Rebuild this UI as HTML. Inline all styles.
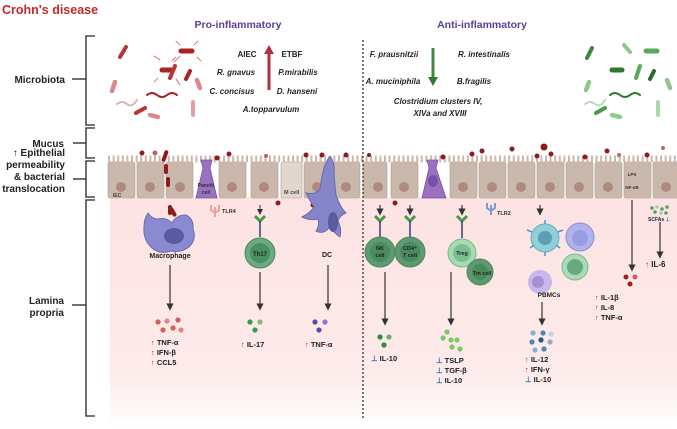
<!DOCTYPE html>
<html><head><meta charset="utf-8"><style>
html,body{margin:0;padding:0;background:#fff;width:677px;height:429px;overflow:hidden}
svg{display:block;font-family:"Liberation Sans",sans-serif}
.b{font-weight:bold}
</style></head><body>
<svg width="677" height="429" viewBox="0 0 677 429" xmlns="http://www.w3.org/2000/svg">
<defs>
<linearGradient id="pk" x1="0" y1="0" x2="0" y2="1">
<stop offset="0" stop-color="#fde3e3"/><stop offset="0.75" stop-color="#fdeaea"/><stop offset="1" stop-color="#ffffff"/>
</linearGradient>
<marker id="ar" markerWidth="6" markerHeight="6" refX="3" refY="3" orient="auto"><path d="M0,0 L6,3 L0,6z" fill="#333"/></marker>
</defs>
<text x="2" y="14" class="b" font-size="12.5" fill="#c62828">Crohn's disease</text>
<g stroke="#222" stroke-width="1.3" fill="none">
<path d="M95,36 H86 V125 H95"/><path d="M95,128 H86 V158 H95"/><path d="M95,161 H86 V197 H95"/><path d="M95,200 H86 V416 H95"/>
<line x1="72" y1="79" x2="86" y2="79"/><line x1="73" y1="143" x2="86" y2="143"/><line x1="73" y1="179" x2="86" y2="179"/><line x1="72" y1="305" x2="86" y2="305"/>
</g>
<g class="b" font-size="10" fill="#222" text-anchor="end">
<text x="65" y="83">Microbiota</text><text x="64" y="147">Mucus</text>
<text x="65" y="156">↑ Epithelial</text><text x="65" y="168">permeability</text><text x="65" y="180">&amp; bacterial</text><text x="65" y="192">translocation</text>
<text x="64" y="304">Lamina</text><text x="64" y="316">propria</text>
</g>
<rect x="110" y="197" width="567" height="232" fill="url(#pk)"/>
<g>
<g fill="#cbb8ac" stroke="#b09c90" stroke-width="0.6">
<rect x="108" y="162" width="27" height="36" rx="2"/><rect x="137" y="162" width="27" height="36" rx="2"/><rect x="166" y="162" width="27" height="36" rx="2"/>
<rect x="219" y="162" width="27" height="36" rx="2"/><rect x="251" y="162" width="27" height="36" rx="2"/>
<rect x="281" y="162" width="21" height="36" rx="2" fill="#e2d6cd"/><rect x="304" y="162" width="27" height="36" rx="2"/><rect x="333" y="162" width="27" height="36" rx="2"/>
<rect x="363" y="162" width="24" height="36" rx="2"/><rect x="391" y="162" width="27" height="36" rx="2"/>
<rect x="450" y="162" width="27" height="36" rx="2"/><rect x="479" y="162" width="27" height="36" rx="2"/><rect x="508" y="162" width="27" height="36" rx="2"/><rect x="537" y="162" width="27" height="36" rx="2"/>
<rect x="566" y="162" width="27" height="36" rx="2"/><rect x="595" y="162" width="27" height="36" rx="2"/><rect x="624" y="162" width="27" height="36" rx="2"/><rect x="653" y="162" width="27" height="36" rx="2"/>
</g>
<path d="M108,162 h572" stroke="#cbb8ac" stroke-width="7" stroke-dasharray="2 2.6" transform="translate(0,-3)"/>
<g fill="#b08a80">
<circle cx="121" cy="187" r="5"/><circle cx="150" cy="187" r="5"/><circle cx="180" cy="187" r="5"/><circle cx="232" cy="187" r="5"/><circle cx="264" cy="187" r="5"/>
<circle cx="317" cy="187" r="5"/><circle cx="346" cy="187" r="5"/><circle cx="378" cy="187" r="5"/><circle cx="404" cy="187" r="5"/><circle cx="463" cy="187" r="5"/>
<circle cx="492" cy="187" r="5"/><circle cx="521" cy="187" r="5"/><circle cx="550" cy="187" r="5"/><circle cx="579" cy="187" r="5"/><circle cx="608" cy="187" r="5"/><circle cx="666" cy="187" r="5"/>
</g>
</g>
<text x="113" y="197" font-size="5" class="b" fill="#444">IEC</text>
<text x="284" y="194" font-size="5.5" class="b" fill="#444">M cell</text>
<path d="M196,198 L203,168 L201,160 L212,160 L210,168 L217,198 Z" fill="#9a70c0" stroke="#7a52a0" stroke-width="0.8"/>
<text x="206" y="187" font-size="5" class="b" fill="#333" text-anchor="middle">Paneth</text><text x="206" y="194" font-size="5" class="b" fill="#333" text-anchor="middle">cell</text>
<path d="M422,198 L429,168 L427,160 L438,160 L436,168 L446,198 Z" fill="#9a70c0" stroke="#7a52a0" stroke-width="0.8"/>
<ellipse cx="433" cy="181" rx="5" ry="6" fill="#7a4fa8"/>
<g fill="#8e1c1c">
<circle cx="142" cy="153" r="2.5"/><circle cx="155" cy="153" r="2.5" fill="#c46060"/><circle cx="217" cy="158" r="2.5"/><circle cx="229" cy="154" r="2.5"/>
<circle cx="266" cy="156" r="2" fill="#c46060"/><circle cx="306" cy="155" r="2.5"/><circle cx="322" cy="155" r="2.5"/><circle cx="346" cy="155" r="2.5"/>
<circle cx="369" cy="155" r="2" /><circle cx="443" cy="157" r="2.5"/><circle cx="472" cy="154" r="2.5"/><circle cx="482" cy="151" r="2.5"/>
<circle cx="512" cy="149" r="2.5"/><circle cx="544" cy="147" r="3.5"/><circle cx="537" cy="156" r="2.5"/><circle cx="551" cy="154" r="2.5"/><circle cx="585" cy="157" r="2.5"/>
<circle cx="607" cy="151" r="2.5"/><circle cx="619" cy="155" r="2" fill="#c46060"/><circle cx="647" cy="155" r="2.5"/><circle cx="663" cy="148" r="2" fill="#c46060"/>
<circle cx="395" cy="203" r="2.5"/><circle cx="278" cy="203" r="2.5"/><circle cx="313" cy="205" r="2.5"/>
<rect x="163" y="150" width="4" height="12" rx="2" transform="rotate(20 165 156)"/>
<rect x="164" y="164" width="4" height="10" rx="2"/><rect x="166" y="177" width="4" height="10" rx="2"/><rect x="168" y="205" width="4" height="10" rx="2"/>
<rect x="171" y="207" width="4" height="10" rx="2" transform="rotate(-30 173 212)"/>
</g>
<g stroke="#e8a0a0" stroke-width="2" fill="none"><path d="M215,207 v10 M211,205 v5 q4,4 8,0 v-5"/></g>
<text x="222" y="213" font-size="5.5" class="b" fill="#333">TLR4</text>
<g stroke="#7a9ad0" stroke-width="2" fill="none"><path d="M491,205 v10 M487,203 v5 q4,4 8,0 v-5"/></g>
<text x="497" y="215" font-size="5.5" class="b" fill="#333">TLR2</text>
<!-- Macrophage -->
<path d="M148,213 q4,6 10,6 q8,-2 14,4 q4,-8 14,-8 q8,4 7,14 q4,10 -4,18 q-8,6 -18,4 q-12,4 -20,-4 q-8,-8 -7,-20 q0,-8 4,-14z" fill="#8a8ad0" stroke="#6a6ab0"/>
<ellipse cx="174" cy="236" rx="10" ry="8" fill="#5a5aa0"/>
<text x="170" y="258" font-size="7" class="b" fill="#222" text-anchor="middle">Macrophage</text>
<!-- Th17 -->
<g stroke="#333" stroke-width="1"><line x1="260" y1="205" x2="260" y2="212" marker-end="url(#ar)"/></g>
<path d="M255,216 l5,5 l5,-5" stroke="#4a9a4a" stroke-width="3" fill="none"/><line x1="260" y1="221" x2="260" y2="237" stroke="#3a3a80" stroke-width="1.5"/>
<circle cx="260" cy="253" r="15" fill="#6aaa80" stroke="#4a8a60"/><circle cx="260" cy="253" r="10" fill="#4a9060"/>
<text x="260" y="256" font-size="6" class="b" fill="#222" text-anchor="middle">Th17</text>
<!-- DC -->
<path d="M331,157 l3,8 q0,15 2,30 q4,12 10,18 q-6,2 -8,8 q4,8 2,16 q-6,-4 -10,-10 q-6,8 -14,4 q4,-6 2,-12 q-8,2 -16,-2 q8,-4 12,-10 q-4,-6 -8,-14 q10,2 14,-4 q2,-16 5,-24 l4,-8z" fill="#8585c8" stroke="#6a6ab0"/>
<ellipse cx="333" cy="222" rx="5" ry="10" fill="#5a5aa0"/>
<text x="327" y="257" font-size="7" class="b" fill="#222" text-anchor="middle">DC</text>
<g stroke="#333" stroke-width="1.2">
<line x1="170" y1="265" x2="170" y2="307" marker-end="url(#ar)"/><line x1="260" y1="272" x2="260" y2="307" marker-end="url(#ar)"/><line x1="328" y1="265" x2="328" y2="307" marker-end="url(#ar)"/>
<line x1="385" y1="272" x2="385" y2="322" marker-end="url(#ar)"/><line x1="451" y1="272" x2="451" y2="322" marker-end="url(#ar)"/><line x1="542" y1="302" x2="542" y2="322" marker-end="url(#ar)"/>
<line x1="632" y1="200" x2="632" y2="268" marker-end="url(#ar)"/><line x1="660" y1="222" x2="660" y2="255" marker-end="url(#ar)"/>
<line x1="380" y1="205" x2="380" y2="212" marker-end="url(#ar)"/><line x1="410" y1="205" x2="410" y2="212" marker-end="url(#ar)"/><line x1="462" y1="205" x2="462" y2="212" marker-end="url(#ar)"/><line x1="540" y1="205" x2="540" y2="212" marker-end="url(#ar)"/>
</g>
<g fill="#d06060"><circle cx="158" cy="322" r="2.6"/><circle cx="167" cy="321" r="2.6" fill="#e08888"/><circle cx="178" cy="320" r="2.6"/><circle cx="163" cy="330" r="2.6"/><circle cx="173" cy="328" r="2.6"/><circle cx="181" cy="330" r="2.6" fill="#e08888"/></g>
<g fill="#3a9a4a"><circle cx="250" cy="322" r="2.6"/><circle cx="260" cy="322" r="2.6" fill="#7ac07a"/><circle cx="255" cy="330" r="2.6"/></g>
<g fill="#5a4aa8"><circle cx="315" cy="322" r="2.6"/><circle cx="325" cy="322" r="2.6" fill="#8a7ac8"/><circle cx="319" cy="330" r="2.6"/></g>
<g font-size="7.5" class="b" fill="#222">
<text x="151" y="345"><tspan fill="#c62828">↑</tspan> TNF-α</text><text x="151" y="355"><tspan fill="#c62828">↑</tspan> IFN-β</text><text x="151" y="365"><tspan fill="#c62828">↑</tspan> CCL5</text>
<text x="241" y="347"><tspan fill="#c62828">↑</tspan> IL-17</text><text x="305" y="347"><tspan fill="#c62828">↑</tspan> TNF-α</text>
</g>
<line x1="363" y1="40" x2="363" y2="420" stroke="#222" stroke-width="1.2" stroke-dasharray="2 2"/>
<g fill="none" stroke="#4a9a4a" stroke-width="3"><path d="M375,216 l5,5 l5,-5"/><path d="M405,216 l5,5 l5,-5"/><path d="M457,216 l5,5 l5,-5"/></g>
<g stroke="#3a3a80" stroke-width="1.5"><line x1="380" y1="221" x2="380" y2="238"/><line x1="410" y1="221" x2="410" y2="238"/><line x1="462" y1="221" x2="462" y2="238"/></g>
<circle cx="380" cy="252" r="15" fill="#5e9a70" stroke="#4a8a60"/><circle cx="380" cy="252" r="10" fill="#4a8a60"/>
<circle cx="410" cy="252" r="15" fill="#5e9a70" stroke="#4a8a60"/><circle cx="410" cy="252" r="10" fill="#4a8a60"/>
<g font-size="5.5" class="b" fill="#222" text-anchor="middle"><text x="380" y="250">NK</text><text x="380" y="257">cell</text><text x="410" y="250">CD4⁺</text><text x="410" y="257">T cell</text></g>
<circle cx="462" cy="253" r="14" fill="#a8dcb0" stroke="#7ab890"/><circle cx="462" cy="253" r="9" fill="#7ac090"/>
<text x="462" y="255" font-size="5.5" class="b" fill="#222" text-anchor="middle">Treg</text>
<circle cx="480" cy="272" r="13" fill="#5e9a70" stroke="#4a8a60"/><circle cx="480" cy="272" r="8" fill="#4a8a60"/>
<text x="482" y="275" font-size="5.5" class="b" fill="#222" text-anchor="middle">Tm cell</text>
<circle cx="545" cy="238" r="14" fill="#8fd0d8" stroke="#6ab0c0"/><circle cx="545" cy="238" r="7" fill="#5aa0b0"/>
<g stroke="#5a90c8" stroke-width="1.5"><line x1="545" y1="220" x2="545" y2="224"/><line x1="527" y1="230" x2="532" y2="232"/><line x1="563" y1="230" x2="558" y2="232"/><line x1="530" y1="248" x2="534" y2="245"/><line x1="560" y1="248" x2="556" y2="245"/><line x1="545" y1="256" x2="545" y2="252"/></g>
<circle cx="580" cy="237" r="14" fill="#b0b4ec" stroke="#9090d0"/><circle cx="580" cy="238" r="8" fill="#9a9ce0"/>
<circle cx="575" cy="267" r="13" fill="#a8dcb8" stroke="#7ab890"/><circle cx="575" cy="267" r="8" fill="#6aa880"/>
<circle cx="540" cy="282" r="12" fill="#c8b8ec"/><circle cx="538" cy="282" r="6" fill="#a890d0"/>
<text x="549" y="297" font-size="6.5" class="b" fill="#222" text-anchor="middle">PBMCs</text>
<g fill="#2e8a3e"><circle cx="380" cy="337" r="2.6"/><circle cx="389" cy="337" r="2.6" fill="#6ab06a"/><circle cx="384" cy="345" r="2.6"/></g>
<g fill="#7ac86a"><circle cx="447" cy="332" r="2.6"/><circle cx="443" cy="338" r="2.6"/><circle cx="451" cy="340" r="2.6"/><circle cx="457" cy="340" r="2.6"/><circle cx="452" cy="347" r="2.6"/><circle cx="460" cy="349" r="2.6"/></g>
<g fill="#4a88b0"><circle cx="533" cy="333" r="2.6" fill="#8ab0d0"/><circle cx="543" cy="333" r="2.6"/><circle cx="551" cy="334" r="2.6" fill="#c8d0d8"/><circle cx="532" cy="342" r="2.6"/><circle cx="541" cy="340" r="2.6" fill="#1a5a8a"/><circle cx="550" cy="342" r="2.6" fill="#8ab0d0"/><circle cx="535" cy="350" r="2.6" fill="#8ab0d0"/><circle cx="544" cy="349" r="2.6"/></g>
<g font-size="7.5" class="b" fill="#222">
<text x="371" y="361"><tspan fill="#1f5fae">⊥</tspan> IL-10</text>
<text x="436" y="363"><tspan fill="#1f5fae">⊥</tspan> TSLP</text><text x="436" y="373"><tspan fill="#1f5fae">⊥</tspan> TGF-β</text><text x="436" y="383"><tspan fill="#1f5fae">⊥</tspan> IL-10</text>
<text x="525" y="362"><tspan fill="#c62828">↑</tspan> IL-12</text><text x="525" y="372"><tspan fill="#c62828">↑</tspan> IFN-γ</text><text x="525" y="382"><tspan fill="#1f5fae">⊥</tspan> IL-10</text>
<text x="595" y="300"><tspan fill="#c62828">↑</tspan> IL-1β</text><text x="595" y="310"><tspan fill="#c62828">↑</tspan> IL-8</text><text x="595" y="320"><tspan fill="#c62828">↑</tspan> TNF-α</text>
<text x="645" y="267" font-size="8"><tspan fill="#c62828">↑</tspan> IL-6</text>
</g>
<g fill="#a02020"><circle cx="626" cy="277" r="2.5"/><circle cx="635" cy="277" r="2.5" fill="#c06060"/><circle cx="630" cy="284" r="2.5"/></g>
<text x="632" y="176" font-size="4.5" class="b" fill="#333" text-anchor="middle">LPS</text>
<text x="632" y="189" font-size="4.5" class="b" fill="#333" text-anchor="middle">NF-κB</text>
<g fill="#5aa060"><circle cx="652" cy="208" r="1.8"/><circle cx="657" cy="207" r="1.8" fill="#a8d0a8"/><circle cx="662" cy="209" r="1.8"/><circle cx="667" cy="207" r="1.8"/><circle cx="655" cy="212" r="1.8"/><circle cx="661" cy="213" r="1.8" fill="#a8d0a8"/><circle cx="666" cy="213" r="1.8"/></g>
<text x="648" y="221" font-size="5" class="b" fill="#222">SCFAs <tspan fill="#1f5fae">⊥</tspan></text>
<text x="238" y="28" font-size="10.5" class="b" fill="#5b3f96" text-anchor="middle">Pro-inflammatory</text>
<text x="482" y="28" font-size="10.5" class="b" fill="#5b3f96" text-anchor="middle">Anti-inflammatory</text>
<g font-size="8" class="b" fill="#222" font-style="italic" text-anchor="middle">
<text x="247" y="57" font-style="normal">AIEC</text><text x="292" y="57" font-style="normal">ETBF</text>
<text x="236" y="75">R. gnavus</text><text x="298" y="75">P.mirabilis</text>
<text x="232" y="94">C. concisus</text><text x="297" y="94">D. hanseni</text>
<text x="271" y="112">A.topparvulum</text>
<text x="394" y="57">F. prausnitzii</text><text x="484" y="57">R. intestinalis</text>
<text x="393" y="84">A. muciniphila</text><text x="474" y="84">B.fragilis</text>
<text x="438" y="104">Clostridium clusters IV,</text><text x="440" y="116">XIVa and XVIII</text>
</g>
<path d="M269,90 V52" stroke="#b03040" stroke-width="3"/><path d="M264,54 L269,45 L274,54z" fill="#b03040"/>
<path d="M433,48 V79" stroke="#2e7a2e" stroke-width="3" opacity="0.9"/><path d="M428,77 L433,86 L438,77z" fill="#2e7a2e"/>
<g stroke-linecap="round" fill="none">
<line x1="120" y1="57" x2="126" y2="47" stroke="#b33" stroke-width="4"/>
<line x1="162" y1="70" x2="172" y2="70" stroke="#a22" stroke-width="5"/><line x1="181" y1="51" x2="192" y2="51" stroke="#a22" stroke-width="5"/>
<line x1="170" y1="78" x2="175" y2="66" stroke="#b33" stroke-width="4"/><line x1="186" y1="79" x2="190" y2="71" stroke="#a22" stroke-width="4"/>
<line x1="136" y1="113" x2="145" y2="108" stroke="#b33" stroke-width="4"/><line x1="112" y1="91" x2="115" y2="82" stroke="#d88" stroke-width="4.5"/>
<line x1="150" y1="115" x2="158" y2="117" stroke="#d88" stroke-width="4.5"/><line x1="197" y1="80" x2="200" y2="88" stroke="#d88" stroke-width="4.5"/>
<line x1="193" y1="102" x2="193" y2="115" stroke="#e0a0a0" stroke-width="4"/>
<path d="M147,95 q5,-4 10,0 t10,0 t10,0" stroke="#a22" stroke-width="2"/><path d="M117,104 q5,-4 10,0 t10,-4" stroke="#e3b0b0" stroke-width="2"/>
<path d="M160,60 l-6,-4 M174,62 l6,-6 M176,79 l4,6 M158,78 l-4,4 M180,45 l-4,-4 M194,45 l4,-4 M176,57 l-4,4 M197,57 l4,4" stroke="#c55" stroke-width="0.8"/>
</g>
<g stroke-linecap="round" fill="none">
<line x1="587" y1="58" x2="592" y2="48" stroke="#3a8a3a" stroke-width="4"/>
<line x1="612" y1="70" x2="622" y2="70" stroke="#2e7a2e" stroke-width="5"/><line x1="646" y1="51" x2="657" y2="51" stroke="#5aa85a" stroke-width="5"/>
<line x1="636" y1="78" x2="640" y2="66" stroke="#5aa85a" stroke-width="4"/><line x1="650" y1="79" x2="654" y2="71" stroke="#2e6a2e" stroke-width="4"/>
<line x1="596" y1="113" x2="605" y2="108" stroke="#4a9a4a" stroke-width="4"/><line x1="586" y1="90" x2="589" y2="82" stroke="#8cc88c" stroke-width="4.5"/>
<line x1="612" y1="115" x2="620" y2="117" stroke="#8cc88c" stroke-width="4.5"/><line x1="667" y1="80" x2="670" y2="88" stroke="#8cc88c" stroke-width="4.5"/>
<line x1="658" y1="102" x2="658" y2="115" stroke="#a8d8a8" stroke-width="4"/><line x1="624" y1="45" x2="630" y2="52" stroke="#8cc88c" stroke-width="4"/>
<path d="M610,95 q5,-4 10,0 t10,0 t10,0" stroke="#2e7a2e" stroke-width="2"/><path d="M585,104 q5,-4 10,0 t10,-4" stroke="#b8dcb8" stroke-width="2"/>
</g>
</svg>
</body></html>
